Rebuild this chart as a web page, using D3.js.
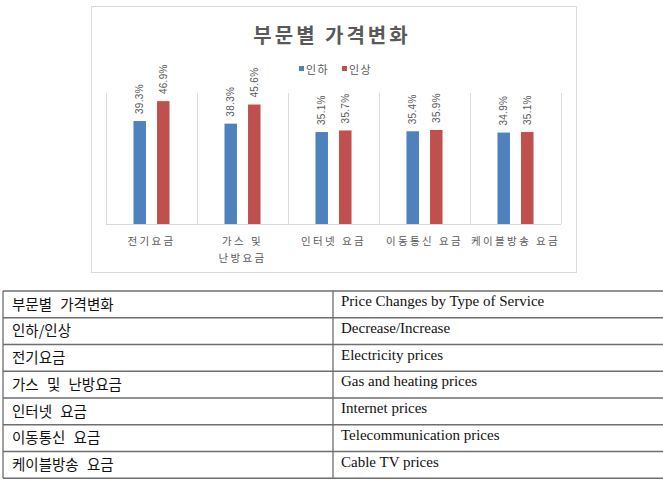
<!DOCTYPE html>
<html>
<head>
<meta charset="utf-8">
<script src="https://cdn.jsdelivr.net/npm/d3@7"></script>
<style>
  body { margin: 0; background: #fff; }
  svg { display: block; }
</style>
</head>
<body>
<div id="chart"></div>
<script>
// chart data
const categories = ['전기요금', '가스 및 난방요금', '인터넷 요금', '이동통신 요금', '케이블방송 요금'];
const categoryLines = [['전기요금'], ['가스 및', '난방요금'], ['인터넷 요금'], ['이동통신 요금'], ['케이블방송 요금']];
const seriesNames = ['인하', '인상'];
const decreaseValues = [39.3, 38.3, 35.1, 35.4, 34.9];
const increaseValues = [46.9, 45.6, 35.7, 35.9, 35.1];
const chartTitle = '부문별 가격변화';

// glossary table under the chart
const tableKorean = ['부문별 가격변화', '인하/인상', '전기요금', '가스 및 난방요금', '인터넷 요금', '이동통신 요금', '케이블방송 요금'];
const tableEnglish = ['Price Changes by Type of Service', 'Decrease/Increase', 'Electricity prices',
  'Gas and heating prices', 'Internet prices', 'Telecommunication prices', 'Cable TV prices'];

const W = 663;
const H = 487;
const COLORS = { '인하': '#4f81bd', '인상': '#c0504d' };
const TEXT_GRAY = '#595959';
const KR_FONT = "'Noto Sans CJK KR', 'Noto Sans', sans-serif";

const svg = d3.select('#chart').append('svg')
  .attr('width', W)
  .attr('height', H);

// chart frame
const frame = { x: 91, y: 6, w: 485, h: 266 };
svg.append('rect')
  .attr('x', frame.x + 0.5)
  .attr('y', frame.y + 0.5)
  .attr('width', frame.w)
  .attr('height', frame.h)
  .attr('fill', '#fff')
  .attr('stroke', '#d9d9d9');

svg.append('text')
  .attr('x', 332)
  .attr('y', 43)
  .attr('text-anchor', 'middle')
  .attr('font-family', KR_FONT)
  .attr('font-weight', 700)
  .attr('font-size', 20)
  .attr('letter-spacing', 3)
  .attr('fill', TEXT_GRAY)
  .text(chartTitle);

// legend
const legend = svg.append('g').attr('class', 'legend');
const legendX = [299, 342];
seriesNames.forEach((name, i) => {
  const g = legend.append('g').attr('transform', `translate(${legendX[i]},66)`);
  g.append('rect')
    .attr('width', 5)
    .attr('height', 5)
    .attr('fill', COLORS[name]);
  g.append('text')
    .attr('x', 7)
    .attr('y', 8)
    .attr('font-family', KR_FONT)
    .attr('font-size', 11)
    .attr('letter-spacing', 1.5)
    .attr('fill', TEXT_GRAY)
    .text(name);
});

// plot area
const plot = { left: 106, right: 561, top: 93, bottom: 224 };

const x0 = d3.scaleBand()
  .domain(categories)
  .range([plot.left, plot.right])
  .paddingInner(0.604)
  .paddingOuter(0.302);

const x1 = d3.scaleBand()
  .domain(seriesNames)
  .range([0, x0.bandwidth()])
  .paddingInner(0.47)
  .paddingOuter(0);

const y = d3.scaleLinear()
  .domain([0, 50])
  .range([plot.bottom, plot.top]);

// category dividers (vertical grid)
const cellW = (plot.right - plot.left) / categories.length;
svg.append('g').attr('class', 'grid')
  .selectAll('line')
  .data(d3.range(categories.length + 1))
  .join('line')
  .attr('x1', (i) => Math.round(plot.left + i * cellW) + 0.5)
  .attr('x2', (i) => Math.round(plot.left + i * cellW) + 0.5)
  .attr('y1', plot.top)
  .attr('y2', plot.bottom)
  .attr('stroke', '#d9d9d9');

const rows = categories.map((c, i) => ({
  category: c,
  values: [
    { series: '인하', value: decreaseValues[i] },
    { series: '인상', value: increaseValues[i] },
  ],
}));

const groups = svg.append('g').attr('class', 'bars')
  .selectAll('g')
  .data(rows)
  .join('g')
  .attr('transform', (d) => `translate(${x0(d.category)},0)`);

groups.selectAll('rect')
  .data((d) => d.values)
  .join('rect')
  .attr('x', (d) => x1(d.series))
  .attr('y', (d) => y(d.value))
  .attr('width', x1.bandwidth())
  .attr('height', (d) => y(0) - y(d.value))
  .attr('fill', (d) => COLORS[d.series]);

groups.selectAll('text')
  .data((d) => d.values)
  .join('text')
  .attr('transform', (d) => `translate(${x1(d.series) + x1.bandwidth() / 2 + 3.5},${y(d.value) - 7}) rotate(-90)`)
  .attr('font-family', "'Liberation Sans', Arial, sans-serif")
  .attr('font-size', 10)
  .attr('letter-spacing', 0.3)
  .attr('fill', TEXT_GRAY)
  .text((d) => `${d.value.toFixed(1)}%`);

// baseline
svg.append('line')
  .attr('x1', plot.left)
  .attr('x2', plot.right)
  .attr('y1', plot.bottom + 0.5)
  .attr('y2', plot.bottom + 0.5)
  .attr('stroke', '#d9d9d9');

// category labels
const catLabels = svg.append('g').attr('class', 'cat-labels')
  .selectAll('text')
  .data(categories)
  .join('text')
  .attr('x', (d) => x0(d) + x0.bandwidth() / 2)
  .attr('y', 245)
  .attr('text-anchor', 'middle')
  .attr('font-family', KR_FONT)
  .attr('font-size', 10.5)
  .attr('letter-spacing', 2.4)
  .attr('fill', TEXT_GRAY);

catLabels.selectAll('tspan')
  .data((d, i) => categoryLines[i])
  .join('tspan')
  .attr('x', function () { return d3.select(this.parentNode).attr('x'); })
  .attr('dy', (d, i) => (i === 0 ? 0 : 16.5))
  .text((d) => d);

// glossary table
const table = { left: 3, mid: 333, right: 666, top: 291, rowH: 26.75 };
const tg = svg.append('g').attr('class', 'table');
const nRows = tableKorean.length;

tg.selectAll('line.h')
  .data(d3.range(nRows + 1))
  .join('line')
  .attr('class', 'h')
  .attr('x1', table.left)
  .attr('x2', table.right)
  .attr('y1', (i) => table.top + i * table.rowH)
  .attr('y2', (i) => table.top + i * table.rowH)
  .attr('stroke', '#6e6e6e')
  .attr('stroke-width', 1.3);

tg.selectAll('line.v')
  .data([table.left, table.mid])
  .join('line')
  .attr('class', 'v')
  .attr('x1', (d) => d)
  .attr('x2', (d) => d)
  .attr('y1', table.top)
  .attr('y2', table.top + nRows * table.rowH)
  .attr('stroke', '#6e6e6e')
  .attr('stroke-width', 1.3);

tg.selectAll('text.kr')
  .data(tableKorean)
  .join('text')
  .attr('class', 'kr')
  .attr('x', 12)
  .attr('y', (d, i) => table.top + i * table.rowH + table.rowH / 2)
  .attr('dy', '0.36em')
  .attr('font-family', KR_FONT)
  .attr('font-size', 14.5)
  .attr('word-spacing', 5)
  .attr('fill', '#111')
  .text((d) => d);

tg.selectAll('text.en')
  .data(tableEnglish)
  .join('text')
  .attr('class', 'en')
  .attr('x', 341)
  .attr('y', (d, i) => table.top + i * table.rowH + 15)
  .attr('font-family', "'Liberation Serif', 'Times New Roman', serif")
  .attr('font-size', 15)
  .attr('fill', '#111')
  .text((d) => d);
</script>
</body>
</html>
